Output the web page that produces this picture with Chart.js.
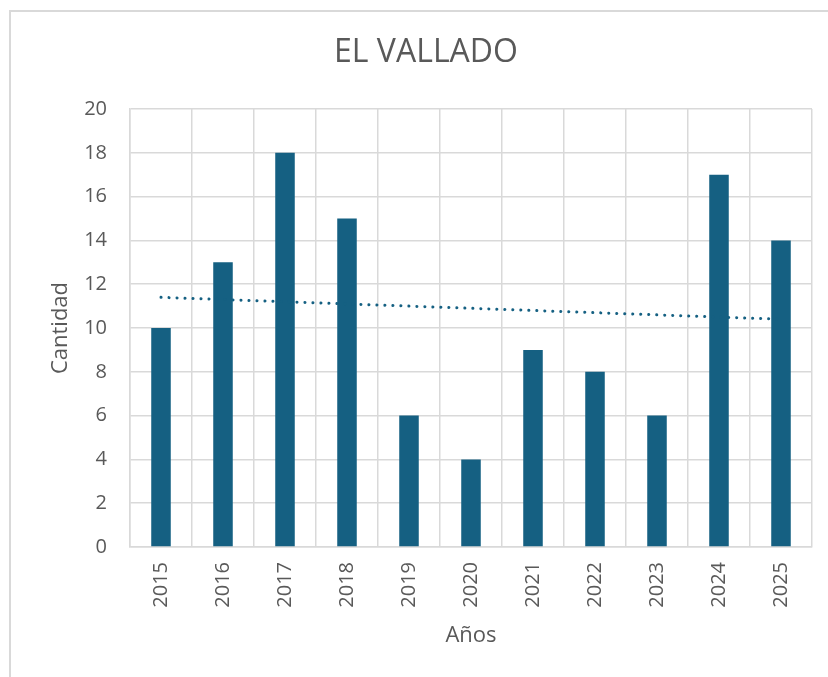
<!DOCTYPE html>
<html>
<head>
<meta charset="utf-8">
<script src="https://cdn.jsdelivr.net/npm/chart.js@4"></script>
<style>
  body { margin: 0; background: #fff; }
  #wrap { position: relative; width: 828px; height: 677px; }
  #frame { position: absolute; left: 9px; top: 10px; right: -10px; bottom: -10px;
           border-left: 2px solid #d9d9d9; border-top: 2px solid #d9d9d9; }
  canvas { position: absolute; left: 0; top: 0; }
</style>
</head>
<body>
<div id="wrap">
  <div id="frame"></div>
  <canvas id="mychart" width="828" height="677"></canvas>
</div>
<script>
const years = ['2015', '2016', '2017', '2018', '2019', '2020', '2021', '2022', '2023', '2024', '2025'];
const cantidad = [10, 13, 18, 15, 6, 4, 9, 8, 6, 17, 14];
// dotted trend line, ends
const trend = [11.4, null, null, null, null, null, null, null, null, null, 10.4];
const yTicks = [0, 2, 4, 6, 8, 10, 12, 14, 16, 18, 20];

const gray = '#595959';
const barColor = '#156082';
const font = 'Open Sans';

const ctx = document.getElementById('mychart').getContext('2d');

let myChart = new Chart(ctx, {
    type: 'bar',
    data: {
        labels: years,
        datasets: [{
                type: 'line',
                label: 'tendencia',
                data: trend,
                spanGaps: true,
                borderColor: barColor,
                borderWidth: 3,
                borderDash: [0.1, 7.9],
                borderCapStyle: 'round',
                pointRadius: 0,
                fill: false,
                order: 0
            },
            {
                label: 'Cantidad',
                data: cantidad,
                backgroundColor: barColor,
                barPercentage: 0.315,
                categoryPercentage: 1,
                order: 1
            }
        ]
    },
    options: {
        responsive: false,
        animation: false,
        layout: { padding: { left: 40, top: 0, right: 16, bottom: 0 } },
        plugins: {
            legend: { display: false },
            tooltip: { enabled: false },
            title: {
                display: true,
                text: 'EL VALLADO',
                color: gray,
                font: { family: font, size: 32, weight: 'normal' },
                padding: { top: 34, bottom: 36.6 }
            }
        },
        scales: {
            x: {
                grid: { color: '#d9d9d9', lineWidth: 1.5, drawTicks: false, offset: true },
                border: { color: '#d9d9d9', width: 1.5 },
                ticks: {
                    color: gray,
                    font: { family: font, size: 20 },
                    minRotation: 90,
                    maxRotation: 90,
                    padding: 15
                },
                title: {
                    display: true,
                    text: 'Años',
                    color: gray,
                    font: { family: font, size: 22 },
                    padding: { top: 0, bottom: 28 }
                },
                afterFit: s => { s.height = 130; }
            },
            y: {
                min: 0,
                max: 20,
                grid: { color: '#d9d9d9', lineWidth: 1.5, drawTicks: false },
                border: { color: '#d9d9d9', width: 1.5 },
                afterBuildTicks: s => { s.ticks = yTicks.map(v => ({ value: v })); },
                ticks: {
                    color: gray,
                    font: { family: font, size: 20 },
                    padding: 23
                },
                title: {
                    display: true,
                    text: 'Cantidad',
                    color: gray,
                    font: { family: font, size: 22 },
                    padding: { top: 8, bottom: 0 }
                },
                afterFit: s => { s.width = 90; }
            }
        }
    }
});
</script>
</body>
</html>
